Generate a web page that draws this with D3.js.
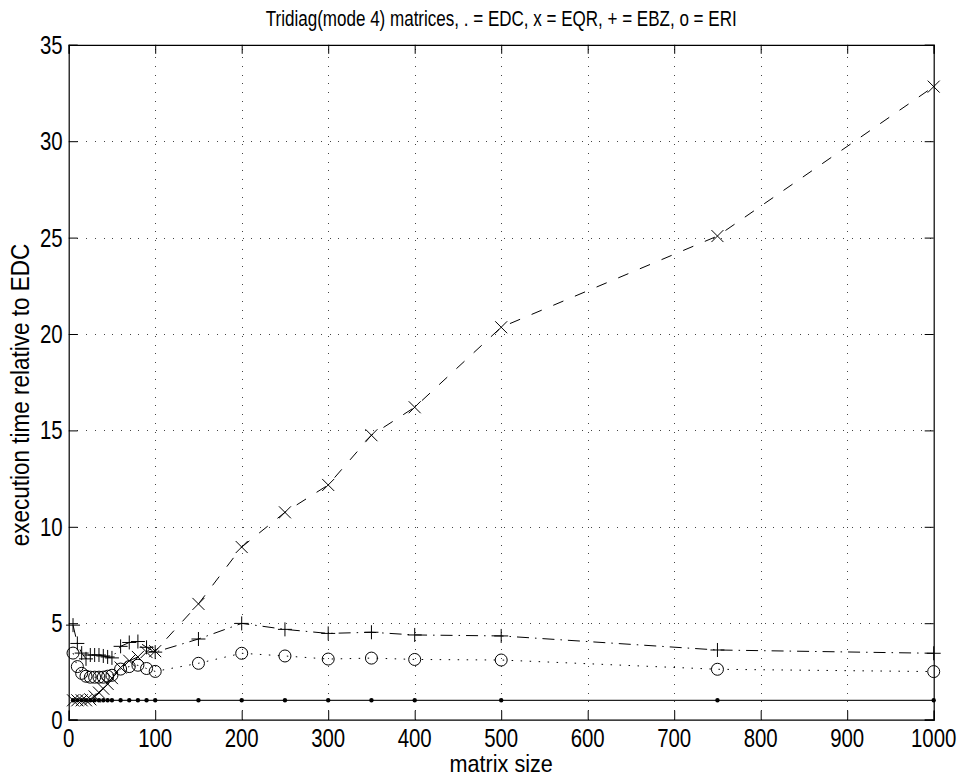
<!DOCTYPE html>
<html><head><meta charset="utf-8">
<script src="https://cdn.jsdelivr.net/npm/d3@7/dist/d3.min.js"></script>
<style>body{margin:0;background:#fff}text{font-family:"Liberation Sans",Arial,Helvetica,sans-serif;fill:#000}</style>
</head><body>
<svg id="c" width="964" height="778"></svg>
<script>
// ---- data ----
const sizes = [5,10,15,20,25,30,35,40,45,50,60,70,80,90,100,150,200,250,300,350,400,500,750,1000];
const edc = [1,1,1,1,1,1,1,1,1,1,1,1,1,1,1,1,1,1,1,1,1,1,1,1];
const eqr = [1.0,1.0,1.0,1.0,1.05,1.2,1.4,1.6,1.85,2.15,2.7,3.05,3.25,3.5,3.55,6.0,8.95,10.75,12.17,14.75,16.2,20.35,25.08,32.83];
const ebz = [4.9,3.95,3.45,3.15,3.35,3.35,3.35,3.3,3.25,3.2,3.8,4.0,4.05,3.75,3.5,4.18,4.99,4.68,4.47,4.53,4.39,4.34,3.61,3.44];
const eri = [3.45,2.75,2.4,2.25,2.2,2.2,2.2,2.2,2.25,2.3,2.62,2.75,2.82,2.65,2.5,2.92,3.44,3.3,3.14,3.19,3.12,3.09,2.61,2.49];
const xTicks = [0,100,200,300,400,500,600,700,800,900,1000];
const yTicks = [0,5,10,15,20,25,30,35];
const titleText = "Tridiag(mode 4) matrices, . = EDC, x = EQR, + = EBZ, o = ERI";
const xLabel = "matrix size";
const yLabel = "execution time relative to EDC";

// ---- layout ----
const L = 68.7, R = 933.7, T = 44.8, B = 719.6;
const svg = d3.select("#c");
const x = d3.scaleLinear().domain([0,1000]).range([L,R]);
const y = d3.scaleLinear().domain([0,35]).range([B,T]);
const SX = 0.8;

// grid
const grid = svg.append("g").attr("stroke","#444").attr("stroke-width",1).attr("stroke-dasharray","1,7.7").attr("shape-rendering","crispEdges");
xTicks.slice(1,-1).forEach(t=>grid.append("line").attr("x1",Math.round(x(t))+0.5).attr("x2",Math.round(x(t))+0.5).attr("y1",B).attr("y2",T));
yTicks.slice(1,-1).forEach(t=>grid.append("line").attr("y1",Math.round(y(t))+0.5).attr("y2",Math.round(y(t))+0.5).attr("x1",L).attr("x2",R));

// axes via d3 axis (inward ticks)
const axB = d3.axisBottom(x).tickValues(xTicks).tickSize(-9).tickFormat(()=> "");
const axT = d3.axisTop(x).tickValues(xTicks).tickSize(-9).tickFormat(()=> "");
const axL = d3.axisLeft(y).tickValues(yTicks).tickSize(-9).tickFormat(()=> "");
const axR = d3.axisRight(y).tickValues(yTicks).tickSize(-9).tickFormat(()=> "");
[[axB,`translate(0,${B})`],[axT,`translate(0,${T})`],[axL,`translate(${L},0)`],[axR,`translate(${R},0)`]].forEach(([a,tr])=>{
  const g = svg.append("g").attr("transform",tr).call(a);
  g.selectAll("path").attr("stroke","#000").attr("stroke-width",1.2);
  g.selectAll("line").attr("stroke","#000").attr("stroke-width",1);
});

// tick labels
const tf = 25.5;
xTicks.forEach(t=>svg.append("text").attr("transform",`translate(${x(t)},${B+27}) scale(${SX},1)`)
  .attr("text-anchor","middle").attr("font-size",tf).text(t));
yTicks.forEach(t=>svg.append("text").attr("transform",`translate(${L-6},${y(t)+9}) scale(${SX},1)`)
  .attr("text-anchor","end").attr("font-size",tf).text(t));

// title & labels
svg.append("text").attr("transform",`translate(${(L+R)/2},${26}) scale(${SX},1)`).attr("text-anchor","middle").attr("font-size",21.3).text(titleText);
svg.append("text").attr("transform",`translate(${(L+R)/2},${772}) scale(0.9,1)`).attr("text-anchor","middle").attr("font-size",24).text(xLabel);
svg.append("text").attr("transform",`translate(${29},${395}) rotate(-90) scale(0.9,1)`).attr("text-anchor","middle").attr("font-size",25).text(yLabel);

// series
const series = [
  {v:edc, dash:null, marker:"dot", w:1.3, c:"#222"},
  {v:eqr, dash:"11,12.5", marker:"x", w:1, c:"#000"},
  {v:ebz, dash:"12,6,1.5,6", marker:"plus", w:1, c:"#000"},
  {v:eri, dash:"1.5,7.5", marker:"o", w:1, c:"#000"}
];
const line = d3.line().x(d=>x(d[0])).y(d=>y(d[1]));
series.forEach(s=>{
  const pts = sizes.map((sz,i)=>[sz,s.v[i]]);
  const p = svg.append("path").datum(pts).attr("d",line).attr("fill","none").attr("stroke",s.c).attr("stroke-width",s.w);
  if(s.dash) p.attr("stroke-dasharray",s.dash);
  const g = svg.append("g");
  pts.forEach(d=>{
    const cx = x(d[0]), cy = y(d[1]);
    if(s.marker==="dot") g.append("circle").attr("cx",cx).attr("cy",cy).attr("r",2.2).attr("fill","#000");
    else if(s.marker==="x") g.append("path").attr("d",`M${cx-6},${cy-6}L${cx+6},${cy+6}M${cx-6},${cy+6}L${cx+6},${cy-6}`).attr("stroke","#000").attr("stroke-width",1);
    else if(s.marker==="plus") g.append("path").attr("d",`M${cx-7},${cy}L${cx+7},${cy}M${cx},${cy-7}L${cx},${cy+7}`).attr("stroke","#000").attr("stroke-width",1);
    else g.append("circle").attr("cx",cx).attr("cy",cy).attr("r",6).attr("fill","none").attr("stroke","#000").attr("stroke-width",1);
  });
});
</script>
</body></html>
